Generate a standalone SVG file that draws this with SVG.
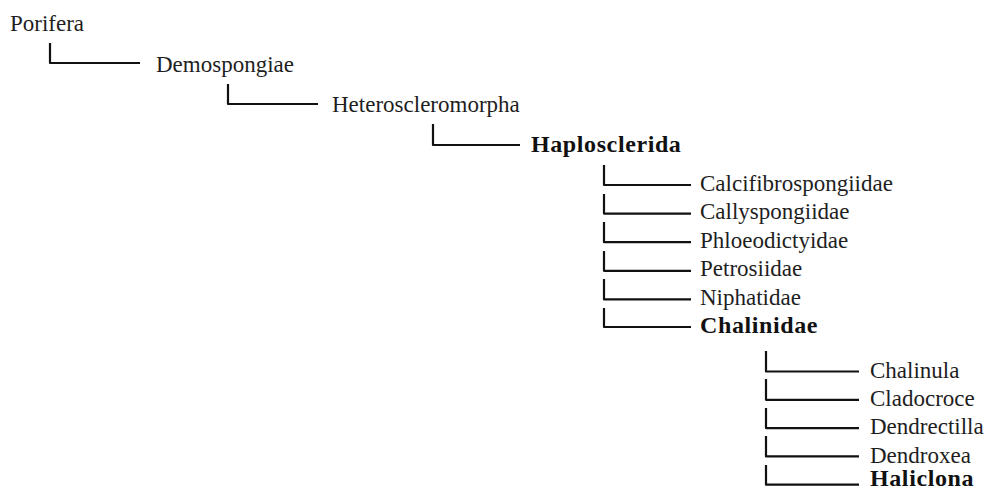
<svg xmlns="http://www.w3.org/2000/svg" width="987" height="492" viewBox="0 0 987 492">
<style>
text{font-family:"Liberation Serif","Times New Roman",serif;font-size:23px;fill:#1e1e1e}
.b{font-weight:bold;fill:#111;font-size:24px;letter-spacing:0.6px}
.c path{fill:none;stroke:#111;stroke-width:2.2;stroke-linejoin:round}
</style>
<rect width="987" height="492" fill="#fff"/>
<g class="c" id="connectors">
<path d="M50,43V63H140"/>
<path d="M228,84V104H318"/>
<path d="M433,124V145H520"/>
<path d="M604,165V185H691"/>
<path d="M604,194V213.6H691"/>
<path d="M604,222V242.2H691"/>
<path d="M604,251V270.8H691"/>
<path d="M604,279V299.4H691"/>
<path d="M604,308V327H691"/>
<path d="M766,351V371.5H859"/>
<path d="M766,379V399.8H859"/>
<path d="M766,408V428.1H859"/>
<path d="M766,436V456.4H859"/>
<path d="M766,465V484.7H859"/>
</g>
<g id="porifera"><text x="10" y="30.5">Porifera</text></g>
<g id="demospongiae"><text x="156" y="72">Demospongiae</text></g>
<g id="heteroscleromorpha"><text x="332" y="112">Heteroscleromorpha</text></g>
<g id="haplosclerida"><text class="b" x="531" y="152">Haplosclerida</text></g>
<g id="calcifibrospongiidae"><text x="700" y="190.5">Calcifibrospongiidae</text></g>
<g id="callyspongiidae"><text x="700" y="219">Callyspongiidae</text></g>
<g id="phloeodictyidae"><text x="700" y="247.5">Phloeodictyidae</text></g>
<g id="petrosiidae"><text x="700" y="276">Petrosiidae</text></g>
<g id="niphatidae"><text x="700" y="305">Niphatidae</text></g>
<g id="chalinidae"><text class="b" x="700" y="333">Chalinidae</text></g>
<g id="chalinula"><text x="870" y="377.5">Chalinula</text></g>
<g id="cladocroce"><text x="870" y="406">Cladocroce</text></g>
<g id="dendrectilla"><text x="870" y="434">Dendrectilla</text></g>
<g id="dendroxea"><text x="870" y="462.5">Dendroxea</text></g>
<g id="haliclona"><text class="b" x="870" y="486">Haliclona</text></g>
</svg>
